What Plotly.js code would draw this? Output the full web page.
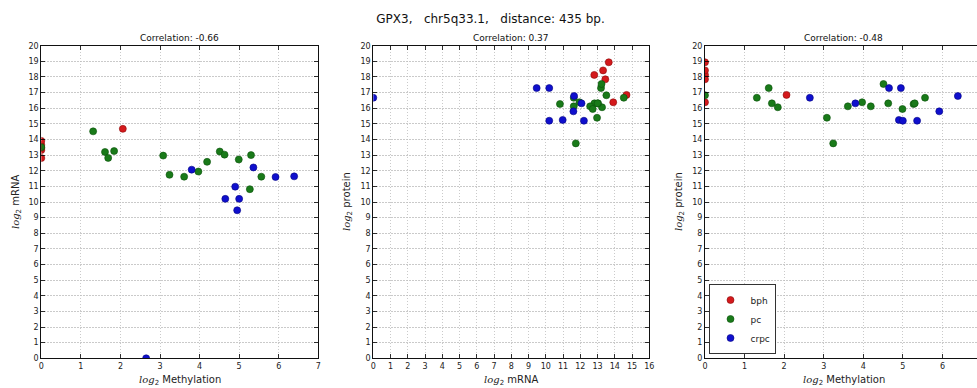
<!DOCTYPE html>
<html>
<head>
<meta charset="utf-8">
<script src="https://cdn.plot.ly/plotly-3.0.1.min.js"></script>
<style>
html, body { margin:0; padding:0; overflow:hidden; background:#fff; width:977px; height:388px; }
#chart { width:985px; height:388px; }
</style>
</head>
<body>
<div id="chart"></div>
<script>
// ---- data ----
var groups = ["bph", "pc", "crpc"];

var bphMethylation = [0, 0, 0, 0, 0, 2.06];
var bphMRNA        = [12.81, 13.32, 13.45, 13.65, 13.91, 14.68];
var bphProtein     = [18.13, 18.42, 17.85, 18.94, 16.38, 16.85];

var pcMethylation = [0, 1.31, 1.61, 1.69, 1.84, 3.08, 3.24, 3.61, 3.97, 4.19, 4.51, 4.63, 4.99, 5.27, 5.30, 5.56];
var pcMRNA        = [13.51, 14.52, 13.20, 12.82, 13.26, 12.97, 11.74, 11.62, 11.95, 12.57, 13.23, 13.03, 12.72, 10.82, 13.00, 11.62];
var pcProtein     = [16.83, 16.67, 17.29, 16.31, 16.06, 15.39, 13.75, 16.12, 16.38, 16.12, 17.55, 16.31, 15.95, 16.27, 16.31, 16.67];

var crpcMethylation = [2.65, 3.80, 4.65, 4.90, 4.95, 5.00, 5.36, 5.92, 6.39];
var crpcMRNA        = [0.0, 12.07, 10.20, 10.98, 9.47, 10.20, 12.21, 11.60, 11.64];
var crpcProtein     = [16.67, 16.31, 17.29, 15.25, 17.29, 15.20, 15.20, 15.80, 16.78];

var correlations = ["-0.66", "0.37", "-0.48"];
var mainTitle = "GPX3,\u00a0\u00a0\u00a0chr5q33.1,\u00a0\u00a0\u00a0distance: 435 bp.";
var methTicks = [0, 1, 2, 3, 4, 5, 6, 7];
var methTickText3 = ["0", "1", "2", "3", "4", "5", "6", ""]; // "7" falls outside the picture

// ---- styling ----
var colors = { bph: "rgb(212,25,28)", pc: "rgb(25,122,25)", crpc: "rgb(15,15,205)" };
var edge = { bph: "rgb(140,10,10)", pc: "rgb(10,80,10)", crpc: "rgb(5,5,130)" };
var dataSets = {
  bph:  { m: bphMethylation,  r: bphMRNA,  p: bphProtein },
  pc:   { m: pcMethylation,   r: pcMRNA,   p: pcProtein },
  crpc: { m: crpcMethylation, r: crpcMRNA, p: crpcProtein }
};

var traces = [];
var panels = [
  { xk: "m", yk: "r", xa: "x",  ya: "y"  },
  { xk: "r", yk: "p", xa: "x2", ya: "y2" },
  { xk: "m", yk: "p", xa: "x3", ya: "y3" }
];
panels.forEach(function (pn, i) {
  groups.forEach(function (g) {
    traces.push({
      type: "scatter", mode: "markers", name: g,
      x: dataSets[g][pn.xk], y: dataSets[g][pn.yk],
      xaxis: pn.xa, yaxis: pn.ya,
      cliponaxis: true,
      showlegend: i === 2,
      marker: { color: colors[g], size: 7, line: { color: edge[g], width: 0.6 } },
      hoverinfo: "x+y+name"
    });
  });
});

var W = 985, H = 388;
function fx(px) { return px / W; }
function fy(py) { return (H - py) / H; }

var plotTop = 45.7, plotBottom = 358.3;
var xd = [[41.3, 318.3], [373.3, 649.3], [705, 982]];

function axis(range, dom, anchor) {
  return {
    range: range, domain: dom, anchor: anchor,
    tick0: 0, dtick: 1, ticks: "inside", ticklen: 4, tickwidth: 0.8, tickcolor: "#000",
    showline: true, linecolor: "#111", linewidth: 1, mirror: "ticks",
    showgrid: true, gridcolor: "#bdbdbd", griddash: "1.5px,1.5px", gridwidth: 0.8,
    zeroline: false, automargin: false, fixedrange: true,
    tickfont: { family: "DejaVu Sans", size: 8, color: "#222" }
  };
}
var ydom = [fy(plotBottom), fy(plotTop)];

var xaxis3 = axis([0, 7], [fx(xd[2][0]), fx(xd[2][1])], "y3");
xaxis3.tickmode = "array";
xaxis3.tickvals = methTicks;
xaxis3.ticktext = methTickText3;

var logHtml = '<span style="font-family:DejaVu Serif;font-style:italic">log</span><sub>2</sub>';
var xTitles = [logHtml + " Methylation", logHtml + " mRNA", logHtml + " Methylation"];
var yTitles = [logHtml + " mRNA", logHtml + " protein", logHtml + " protein"];
var yTitleX = [17, 348, 680];

var annotations = [];
for (var i = 0; i < 3; i++) {
  var cx = (xd[i][0] + xd[i][1]) / 2;
  annotations.push({
    text: "Correlation: " + correlations[i], xref: "paper", yref: "paper",
    x: fx(cx), y: fy(38), xanchor: "center", yanchor: "middle", showarrow: false,
    font: { family: "DejaVu Sans", size: 9, color: "#111" }
  });
  annotations.push({
    text: xTitles[i], xref: "paper", yref: "paper",
    x: fx(cx), y: fy(380), xanchor: "center", yanchor: "middle", showarrow: false,
    font: { family: "DejaVu Sans", size: 10, color: "#222" }
  });
  annotations.push({
    text: yTitles[i], xref: "paper", yref: "paper", textangle: -90,
    x: fx(yTitleX[i]), y: fy((plotTop + plotBottom) / 2), xanchor: "center", yanchor: "middle", showarrow: false,
    font: { family: "DejaVu Sans", size: 10, color: "#222" }
  });
}

var layout = {
  width: W, height: H,
  margin: { l: 0, r: 0, t: 0, b: 0, pad: 0 },
  paper_bgcolor: "#fff", plot_bgcolor: "#fff",
  font: { family: "DejaVu Sans", color: "#222" },
  title: { text: mainTitle, x: fx(490.5), xanchor: "center", y: fy(19), yanchor: "middle",
           font: { family: "DejaVu Sans", size: 12, color: "#111" } },
  xaxis:  axis([0, 7],  [fx(xd[0][0]), fx(xd[0][1])], "y"),
  yaxis:  axis([0, 20], ydom, "x"),
  xaxis2: axis([0, 16], [fx(xd[1][0]), fx(xd[1][1])], "y2"),
  yaxis2: axis([0, 20], ydom, "x2"),
  xaxis3: xaxis3,
  yaxis3: axis([0, 20], ydom, "x3"),
  showlegend: true,
  legend: {
    x: fx(709.3), y: fy(354.3), xanchor: "left", yanchor: "bottom",
    bgcolor: "#fff", bordercolor: "#333", borderwidth: 1.2,
    font: { family: "DejaVu Sans", size: 9, color: "#222" },
    itemwidth: 30, tracegroupgap: 0
  },
  annotations: annotations
};

Plotly.newPlot("chart", traces, layout, { staticPlot: true, displayModeBar: false });
</script>
</body>
</html>
